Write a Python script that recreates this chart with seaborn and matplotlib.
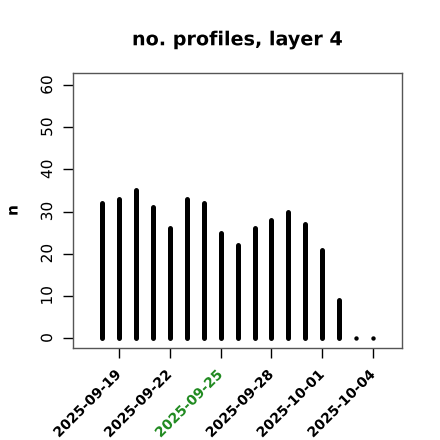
import pandas as pd
import numpy as np
import matplotlib
matplotlib.use("Agg")
import matplotlib.pyplot as plt
import matplotlib.patheffects as pe
import seaborn as sns
sns.set_style("white")
plt.rcParams['font.family'] = ['DejaVu Sans']
plt.rcParams['text.color'] = 'black'
plt.rcParams['axes.labelcolor'] = 'black'
plt.rcParams['xtick.color'] = 'black'
plt.rcParams['ytick.color'] = 'black'
# draw text as paths so rotated labels sit on a straight baseline
plt.rcParams['path.effects'] = [pe.Normal()]

### Data
dates = ["2025-09-18", "2025-09-19", "2025-09-20", "2025-09-21", "2025-09-22", "2025-09-23",
         "2025-09-24", "2025-09-25", "2025-09-26", "2025-09-27", "2025-09-28", "2025-09-29",
         "2025-09-30", "2025-10-01", "2025-10-02", "2025-10-03", "2025-10-04"]
counts = [32, 33, 35, 31, 26, 33, 32, 25, 22, 26, 28, 30, 27, 21, 9, 0, 0]
tick_dates = ["2025-09-19", "2025-09-22", "2025-09-25", "2025-09-28", "2025-10-01", "2025-10-04"]
highlight = "2025-09-25"

df = pd.DataFrame({"date": pd.to_datetime(dates), "n": counts})
day0 = df["date"].min()
df["day"] = (df["date"] - day0).dt.days
tick_pos = [(pd.Timestamp(d) - day0).days for d in tick_dates]

fig = plt.figure(figsize=(4.4, 4.4), dpi=100)
ax = fig.add_axes([0.166, 0.209, 0.748, 0.625])

# histogram-like vertical lines (R type="h")
ax.vlines(df["day"], 0, df["n"], colors="black", linewidth=3.6, capstyle="round")
# zero days still show as a dot
zero = df[df["n"] == 0]
sns.scatterplot(data=zero, x="day", y="n", ax=ax, color="black", s=10, linewidth=0, legend=False)

ax.set_xlim(-1.71, 17.71)
ax.set_ylim(-2.37, 62.85)
ax.tick_params(axis="both", direction="out", length=7, width=1, color="black",
               bottom=True, left=True)
ax.tick_params(axis="y", pad=6)
ax.tick_params(axis="x", pad=10.5)

ax.set_yticks([0, 10, 20, 30, 40, 50, 60])
ax.set_yticklabels(["0", "10", "20", "30", "40", "50", "60"], rotation=90, va="center", fontsize=11)
ax.set_xticks(tick_pos)
ax.set_xticklabels(tick_dates, rotation=45, ha="right", va="center", rotation_mode="anchor",
                   fontweight="bold", fontsize=10)
for lab in ax.get_xticklabels():
    if lab.get_text() == highlight:
        lab.set_color("#228B22")

for s in ax.spines.values():
    s.set_color("#555555")
    s.set_linewidth(1)

ax.set_xlabel("")
ax.set_ylabel("n", fontweight="bold", fontsize=11, labelpad=14)
ax.set_title("no. profiles, layer 4", fontweight="bold", fontsize=13.8, pad=20)

fig.savefig("out.png", dpi=100)
